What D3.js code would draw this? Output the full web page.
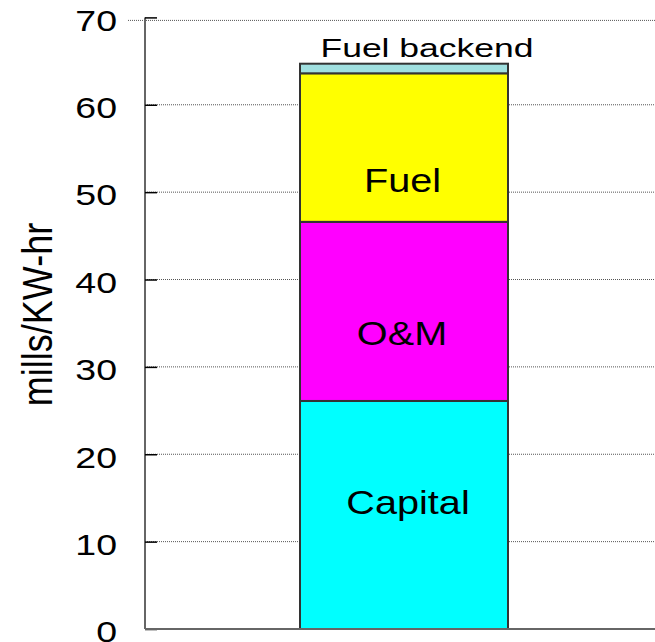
<!DOCTYPE html>
<html>
<head>
<meta charset="utf-8">
<script src="https://cdn.jsdelivr.net/npm/d3@7"></script>
<style>
  html, body { margin: 0; padding: 0; background: #fff; }
  text { font-family: "Liberation Sans", Arial, sans-serif; }
</style>
</head>
<body>
<svg id="chart" width="655" height="642"></svg>
<script>
// Cost components of electricity (mills per kWh), stacked bottom to top
const components = ["Capital", "O&M", "Fuel", "Fuel backend"];
const values = [26.1, 20.5, 17.0, 1.1];
const colors = ["#00ffff", "#ff00ff", "#ffff00", "#a0e0e0"];
const labelAt = [13.2, 32.5, 50.0, null]; // baseline of each in-bar label, in data units
const yTicks = [0, 10, 20, 30, 40, 50, 60, 70];
const yLabel = "mills/KW-hr";

const svg = d3.select("#chart");
const plot = { left: 145, right: 655, top: 17.4, bottom: 629 };
const SX = 1.22; // horizontal stretch of the lettering

const y = d3.scaleLinear().domain([0, 70]).range([plot.bottom, plot.top]);

// stacked segments
let acc = 0;
const segs = components.map((name, i) => {
  const s = { name, y0: acc, y1: acc + values[i], color: colors[i], label: labelAt[i] };
  acc += values[i];
  return s;
});

// dotted gridlines
svg.append("g")
  .selectAll("line")
  .data(yTicks.filter(d => d > 0))
  .join("line")
  .attr("x1", d => d === 70 ? 128 : plot.left)
  .attr("x2", plot.right)
  .attr("y1", d => y(d) + (d === 70 ? 3 : 0))
  .attr("y2", d => y(d) + (d === 70 ? 3 : 0))
  .attr("stroke", "#555")
  .attr("stroke-width", 1)
  .attr("stroke-dasharray", "1,1");

// bar segments
const bw = 208;
const bx = 300;
svg.append("g")
  .selectAll("rect")
  .data(segs)
  .join("rect")
  .attr("x", bx)
  .attr("width", bw)
  .attr("y", d => y(d.y1))
  .attr("height", d => y(d.y0) - y(d.y1))
  .attr("fill", d => d.color)
  .attr("stroke", "#333")
  .attr("stroke-width", 2);

// y axis with inward ticks
const yAxis = d3.axisRight(y).tickValues(yTicks).tickSize(12).tickFormat("");
const ag = svg.append("g").attr("transform", `translate(${plot.left},0)`).call(yAxis);
ag.select(".domain").attr("stroke", "#666").attr("stroke-width", 2).attr("d", `M0,${plot.bottom}V${plot.top}`);
ag.selectAll(".tick line").attr("stroke", "#000").attr("stroke-width", 1.5);

// tick labels
svg.append("g")
  .selectAll("text")
  .data(yTicks)
  .join("text")
  .attr("transform", d => `translate(117,${y(d) + 13.3}) scale(1.25,1)`)
  .attr("text-anchor", "end")
  .attr("font-size", 30)
  .attr("fill", "#000")
  .text(d => d);

// x baseline
svg.append("line")
  .attr("x1", plot.left).attr("x2", plot.right)
  .attr("y1", plot.bottom).attr("y2", plot.bottom)
  .attr("stroke", "#666").attr("stroke-width", 2);

// y-axis title (rotated; stretched across its height to suit the lettering)
svg.append("text")
  .attr("transform", `translate(51.7,314.5) rotate(-90) scale(1,1.2)`)
  .attr("text-anchor", "middle")
  .attr("font-size", 36)
  .text(yLabel);

// in-bar labels
const dx = { "Capital": 4, "O&M": -2, "Fuel": -1.5 };
svg.append("g")
  .selectAll("text")
  .data(segs.filter(d => d.label !== null))
  .join("text")
  .attr("transform", d => `translate(${bx + bw / 2 + dx[d.name]},${y(d.label)}) scale(${SX},1)`)
  .attr("text-anchor", "middle")
  .attr("font-size", 32.5)
  .attr("fill", "#000")
  .text(d => d.name);

// label above the thin top segment
const topSeg = segs[segs.length - 1];
svg.append("text")
  .attr("transform", `translate(${bx + bw / 2 + 23},${y(topSeg.y1) - 7}) scale(1.42,1)`)
  .attr("text-anchor", "middle")
  .attr("font-size", 25)
  .attr("fill", "#000")
  .text(topSeg.name);
</script>
</body>
</html>
